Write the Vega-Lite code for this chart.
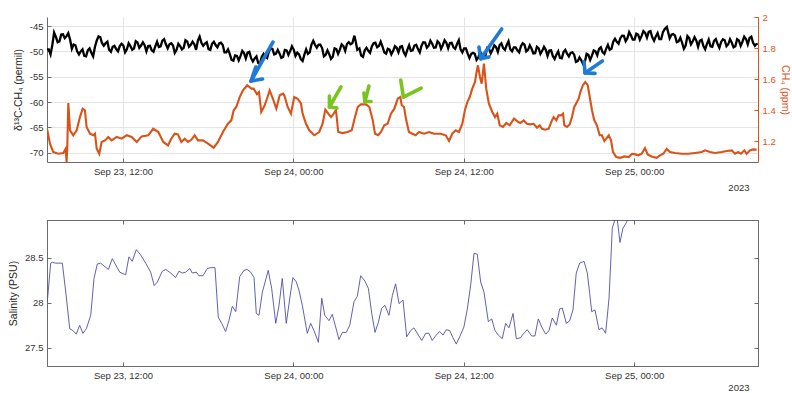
{
  "$schema": "https://vega.github.io/schema/vega-lite/v6.json",
  "padding": {"left": 8, "top": 12, "right": 1, "bottom": 4},
  "background": "white",
  "config": {
    "font": "Liberation Sans",
    "view": {"stroke": null},
    "axis": {
      "labelFont": "Liberation Sans", "titleFont": "Liberation Sans",
      "labelFontSize": 9.5, "titleFontSize": 10.5, "titleFontWeight": "normal",
      "labelColor": "#333333", "titleColor": "#262626",
      "domainColor": "#6b6b6b", "tickColor": "#6b6b6b", "gridColor": "#e4e4e4",
      "tickSize": -4, "labelPadding": 8
    }
  },
  "datasets": {
    "d13c": [
      {"hour":6.65,"d13c":-49.6},{"hour":6.90,"d13c":-50.6},{"hour":7.15,"d13c":-46.3},{"hour":7.40,"d13c":-48.2},{"hour":7.65,"d13c":-46.7},{"hour":7.90,"d13c":-47.4},{"hour":8.15,"d13c":-46.4},{"hour":8.40,"d13c":-49.5},{"hour":8.65,"d13c":-48.8},{"hour":8.90,"d13c":-50.6},
      {"hour":9.15,"d13c":-49.6},{"hour":9.40,"d13c":-51.0},{"hour":9.65,"d13c":-49.4},{"hour":9.90,"d13c":-51.0},{"hour":10.15,"d13c":-47.9},{"hour":10.40,"d13c":-47.2},{"hour":10.65,"d13c":-48.9},{"hour":10.90,"d13c":-48.1},{"hour":11.15,"d13c":-50.1},{"hour":11.40,"d13c":-48.9},
      {"hour":11.65,"d13c":-50.0},{"hour":11.90,"d13c":-48.5},{"hour":12.15,"d13c":-50.2},{"hour":12.40,"d13c":-48.4},{"hour":12.65,"d13c":-49.7},{"hour":12.90,"d13c":-48.0},{"hour":13.15,"d13c":-49.3},{"hour":13.40,"d13c":-48.2},{"hour":13.65,"d13c":-50.0},{"hour":13.90,"d13c":-48.9},
      {"hour":14.15,"d13c":-50.1},{"hour":14.40,"d13c":-48.1},{"hour":14.65,"d13c":-49.0},{"hour":14.90,"d13c":-47.6},{"hour":15.15,"d13c":-49.4},{"hour":15.40,"d13c":-48.4},{"hour":15.65,"d13c":-50.3},{"hour":15.90,"d13c":-48.5},{"hour":16.15,"d13c":-49.6},{"hour":16.40,"d13c":-47.8},
      {"hour":16.65,"d13c":-49.1},{"hour":16.90,"d13c":-48.1},{"hour":17.15,"d13c":-49.7},{"hour":17.40,"d13c":-47.1},{"hour":17.65,"d13c":-48.9},{"hour":17.90,"d13c":-48.2},{"hour":18.15,"d13c":-49.7},{"hour":18.40,"d13c":-48.1},{"hour":18.65,"d13c":-49.2},{"hour":18.90,"d13c":-48.3},
      {"hour":19.15,"d13c":-50.2},{"hour":19.40,"d13c":-49.6},{"hour":19.65,"d13c":-51.7},{"hour":19.90,"d13c":-50.8},{"hour":20.15,"d13c":-51.8},{"hour":20.40,"d13c":-49.9},{"hour":20.65,"d13c":-51.4},{"hour":20.90,"d13c":-50.1},{"hour":21.15,"d13c":-52.0},{"hour":21.40,"d13c":-51.0},
      {"hour":21.65,"d13c":-52.4},{"hour":21.90,"d13c":-50.5},{"hour":22.15,"d13c":-51.3},{"hour":22.40,"d13c":-49.4},{"hour":22.65,"d13c":-50.6},{"hour":22.90,"d13c":-49.7},{"hour":23.15,"d13c":-51.3},{"hour":23.40,"d13c":-49.7},{"hour":23.65,"d13c":-50.7},{"hour":23.90,"d13c":-49.0},
      {"hour":24.15,"d13c":-50.9},{"hour":24.40,"d13c":-50.6},{"hour":24.65,"d13c":-51.9},{"hour":24.90,"d13c":-49.6},{"hour":25.15,"d13c":-50.2},{"hour":25.40,"d13c":-47.9},{"hour":25.65,"d13c":-49.3},{"hour":25.90,"d13c":-48.7},{"hour":26.15,"d13c":-51.0},{"hour":26.40,"d13c":-49.8},
      {"hour":26.65,"d13c":-51.5},{"hour":26.90,"d13c":-49.4},{"hour":27.15,"d13c":-50.5},{"hour":27.40,"d13c":-48.6},{"hour":27.65,"d13c":-49.9},{"hour":27.90,"d13c":-48.2},{"hour":28.15,"d13c":-48.4},{"hour":28.30,"d13c":-46.9},{"hour":28.50,"d13c":-49.7},{"hour":28.65,"d13c":-49.4},
      {"hour":28.90,"d13c":-51.1},{"hour":29.15,"d13c":-49.3},{"hour":29.40,"d13c":-50.3},{"hour":29.65,"d13c":-48.4},{"hour":29.90,"d13c":-49.2},{"hour":30.15,"d13c":-48.1},{"hour":30.40,"d13c":-50.2},{"hour":30.65,"d13c":-49.5},{"hour":30.90,"d13c":-50.6},{"hour":31.15,"d13c":-49.0},
      {"hour":31.40,"d13c":-50.2},{"hour":31.65,"d13c":-49.0},{"hour":31.90,"d13c":-50.8},{"hour":32.15,"d13c":-48.8},{"hour":32.40,"d13c":-49.8},{"hour":32.65,"d13c":-48.7},{"hour":32.90,"d13c":-50.2},{"hour":33.15,"d13c":-48.2},{"hour":33.40,"d13c":-49.3},{"hour":33.65,"d13c":-47.9},
      {"hour":33.90,"d13c":-49.3},{"hour":34.15,"d13c":-48.0},{"hour":34.40,"d13c":-49.5},{"hour":34.65,"d13c":-47.8},{"hour":34.90,"d13c":-49.4},{"hour":35.15,"d13c":-48.3},{"hour":35.40,"d13c":-49.5},{"hour":35.65,"d13c":-47.8},{"hour":35.90,"d13c":-50.2},{"hour":36.15,"d13c":-49.4},
      {"hour":36.40,"d13c":-51.3},{"hour":36.65,"d13c":-50.3},{"hour":36.90,"d13c":-51.7},{"hour":37.15,"d13c":-50.1},{"hour":37.40,"d13c":-51.2},{"hour":37.65,"d13c":-49.3},{"hour":37.90,"d13c":-50.4},{"hour":38.15,"d13c":-48.8},{"hour":38.40,"d13c":-50.1},{"hour":38.65,"d13c":-48.4},
      {"hour":38.90,"d13c":-49.7},{"hour":39.15,"d13c":-48.0},{"hour":39.40,"d13c":-50.0},{"hour":39.65,"d13c":-49.2},{"hour":39.90,"d13c":-50.2},{"hour":40.15,"d13c":-48.4},{"hour":40.40,"d13c":-50.0},{"hour":40.65,"d13c":-48.8},{"hour":40.90,"d13c":-50.4},{"hour":41.15,"d13c":-49.1},
      {"hour":41.40,"d13c":-50.5},{"hour":41.65,"d13c":-49.1},{"hour":41.90,"d13c":-50.9},{"hour":42.15,"d13c":-49.8},{"hour":42.40,"d13c":-51.5},{"hour":42.65,"d13c":-50.0},{"hour":42.90,"d13c":-51.4},{"hour":43.15,"d13c":-49.7},{"hour":43.40,"d13c":-51.0},{"hour":43.65,"d13c":-50.2},
      {"hour":43.90,"d13c":-52.1},{"hour":44.15,"d13c":-51.2},{"hour":44.40,"d13c":-52.5},{"hour":44.65,"d13c":-50.5},{"hour":44.90,"d13c":-51.7},{"hour":45.15,"d13c":-49.8},{"hour":45.40,"d13c":-50.8},{"hour":45.65,"d13c":-49.2},{"hour":45.90,"d13c":-50.5},{"hour":46.15,"d13c":-48.7},
      {"hour":46.40,"d13c":-49.5},{"hour":46.65,"d13c":-47.5},{"hour":46.90,"d13c":-48.5},{"hour":47.15,"d13c":-46.9},{"hour":47.40,"d13c":-48.0},{"hour":47.65,"d13c":-46.2},{"hour":47.90,"d13c":-47.7},{"hour":48.15,"d13c":-46.5},{"hour":48.40,"d13c":-47.7},{"hour":48.65,"d13c":-46.0},
      {"hour":48.90,"d13c":-47.3},{"hour":49.15,"d13c":-46.0},{"hour":49.40,"d13c":-47.9},{"hour":49.65,"d13c":-46.4},{"hour":49.90,"d13c":-47.6},{"hour":50.15,"d13c":-45.6},{"hour":50.30,"d13c":-45.2},{"hour":50.50,"d13c":-47.4},{"hour":50.75,"d13c":-46.6},{"hour":51.00,"d13c":-48.2},
      {"hour":51.25,"d13c":-47.3},{"hour":51.50,"d13c":-49.5},{"hour":51.75,"d13c":-47.0},{"hour":52.00,"d13c":-48.6},{"hour":52.25,"d13c":-47.2},{"hour":52.50,"d13c":-49.1},{"hour":52.75,"d13c":-47.7},{"hour":53.00,"d13c":-49.6},{"hour":53.25,"d13c":-47.7},{"hour":53.50,"d13c":-49.1},
      {"hour":53.75,"d13c":-47.6},{"hour":54.00,"d13c":-49.3},{"hour":54.25,"d13c":-47.6},{"hour":54.50,"d13c":-49.0},{"hour":54.75,"d13c":-47.6},{"hour":55.00,"d13c":-49.2},{"hour":55.25,"d13c":-47.6},{"hour":55.50,"d13c":-48.9},{"hour":55.75,"d13c":-47.1},{"hour":56.00,"d13c":-48.6},
      {"hour":56.25,"d13c":-47.1},{"hour":56.50,"d13c":-48.9},{"hour":56.70,"d13c":-48.5},
      {"hour":6.775,"d13c":-49.6},{"hour":7.025,"d13c":-48.75},{"hour":7.275,"d13c":-47.15},{"hour":7.525,"d13c":-48.05},{"hour":7.775,"d13c":-46.65},{"hour":8.025,"d13c":-47.0},{"hour":8.275,"d13c":-47.65},{"hour":8.525,"d13c":-48.65},{"hour":8.775,"d13c":-50.0},{"hour":9.025,"d13c":-50.0},
      {"hour":9.275,"d13c":-50.9},{"hour":9.525,"d13c":-49.8},{"hour":9.775,"d13c":-50.3},{"hour":10.025,"d13c":-49.15},{"hour":10.275,"d13c":-47.05},{"hour":10.525,"d13c":-48.35},{"hour":10.775,"d13c":-48.4},{"hour":11.025,"d13c":-49.7},{"hour":11.275,"d13c":-49.1},{"hour":11.525,"d13c":-49.55},
      {"hour":11.775,"d13c":-48.95},{"hour":12.025,"d13c":-48.85},{"hour":12.275,"d13c":-49.6},{"hour":12.525,"d13c":-48.95},{"hour":12.775,"d13c":-49.45},{"hour":13.025,"d13c":-48.25},{"hour":13.275,"d13c":-48.85},{"hour":13.525,"d13c":-48.8},{"hour":13.775,"d13c":-48.95},{"hour":14.025,"d13c":-49.8},
      {"hour":14.275,"d13c":-49.0},{"hour":14.525,"d13c":-49.15},{"hour":14.775,"d13c":-47.9},{"hour":15.025,"d13c":-48.6},{"hour":15.275,"d13c":-48.6},{"hour":15.525,"d13c":-48.85},{"hour":15.775,"d13c":-49.7},{"hour":16.025,"d13c":-48.95},{"hour":16.275,"d13c":-49.3},{"hour":16.525,"d13c":-48.05},
      {"hour":16.775,"d13c":-48.7},{"hour":17.025,"d13c":-48.6},{"hour":17.275,"d13c":-47.9},{"hour":17.525,"d13c":-48.3},{"hour":17.775,"d13c":-48.45},{"hour":18.025,"d13c":-49.55},{"hour":18.275,"d13c":-48.5},{"hour":18.525,"d13c":-48.75},{"hour":18.775,"d13c":-48.45},{"hour":19.025,"d13c":-48.75},
      {"hour":19.275,"d13c":-50.2},{"hour":19.525,"d13c":-50.55},{"hour":19.775,"d13c":-51.85},{"hour":20.025,"d13c":-50.9},{"hour":20.275,"d13c":-50.95},{"hour":20.525,"d13c":-50.35},{"hour":20.775,"d13c":-50.25},{"hour":21.025,"d13c":-51.35},{"hour":21.275,"d13c":-51.4},{"hour":21.525,"d13c":-52.3},
      {"hour":21.775,"d13c":-51.05},{"hour":22.025,"d13c":-51.0},{"hour":22.275,"d13c":-50.05},{"hour":22.525,"d13c":-49.5},{"hour":22.775,"d13c":-50.45},{"hour":23.025,"d13c":-50.4},{"hour":23.275,"d13c":-51.1},{"hour":23.525,"d13c":-49.8},{"hour":23.775,"d13c":-49.95},{"hour":24.025,"d13c":-49.65},
      {"hour":24.275,"d13c":-50.25},{"hour":24.525,"d13c":-51.55},{"hour":24.775,"d13c":-50.65},{"hour":25.025,"d13c":-50.5},{"hour":25.275,"d13c":-48.65},{"hour":25.525,"d13c":-48.7},{"hour":25.775,"d13c":-48.7},{"hour":26.025,"d13c":-49.35},{"hour":26.275,"d13c":-50.7},{"hour":26.525,"d13c":-50.55},
      {"hour":26.775,"d13c":-51.05},{"hour":27.025,"d13c":-49.55},{"hour":27.275,"d13c":-49.65},{"hour":27.525,"d13c":-48.95},{"hour":27.775,"d13c":-48.55},{"hour":28.025,"d13c":-48.6},{"hour":28.40,"d13c":-48.2},{"hour":28.775,"d13c":-50.85},{"hour":29.025,"d13c":-49.8},{"hour":29.275,"d13c":-49.9},
      {"hour":29.525,"d13c":-49.05},{"hour":29.775,"d13c":-48.3},{"hour":30.025,"d13c":-48.95},{"hour":30.275,"d13c":-49.05},{"hour":30.525,"d13c":-50.45},{"hour":30.775,"d13c":-49.65},{"hour":31.025,"d13c":-49.9},{"hour":31.275,"d13c":-49.3},{"hour":31.525,"d13c":-49.1},{"hour":31.775,"d13c":-50.2},
      {"hour":32.025,"d13c":-49.7},{"hour":32.275,"d13c":-49.9},{"hour":32.525,"d13c":-48.85},{"hour":32.775,"d13c":-49.55},{"hour":33.025,"d13c":-48.9},{"hour":33.275,"d13c":-48.25},{"hour":33.525,"d13c":-48.9},{"hour":33.775,"d13c":-48.5},{"hour":34.025,"d13c":-49.25},{"hour":34.275,"d13c":-48.35},
      {"hour":34.525,"d13c":-48.75},{"hour":34.775,"d13c":-48.3},{"hour":35.025,"d13c":-48.35},{"hour":35.275,"d13c":-49.2},{"hour":35.525,"d13c":-48.55},{"hour":35.775,"d13c":-49.6},{"hour":36.025,"d13c":-49.4},{"hour":36.275,"d13c":-50.45},{"hour":36.525,"d13c":-50.5},{"hour":36.775,"d13c":-50.5},
      {"hour":37.025,"d13c":-51.2},{"hour":37.275,"d13c":-50.55},{"hour":37.525,"d13c":-50.85},{"hour":37.775,"d13c":-49.45},{"hour":38.025,"d13c":-49.7},{"hour":38.275,"d13c":-49.15},{"hour":38.525,"d13c":-48.75},{"hour":38.775,"d13c":-49.35},{"hour":39.025,"d13c":-48.75},{"hour":39.275,"d13c":-49.6},
      {"hour":39.525,"d13c":-49.2},{"hour":39.775,"d13c":-49.8},{"hour":40.025,"d13c":-49.0},{"hour":40.275,"d13c":-48.7},{"hour":40.525,"d13c":-49.7},{"hour":40.775,"d13c":-49.5},{"hour":41.025,"d13c":-50.35},{"hour":41.275,"d13c":-49.4},{"hour":41.525,"d13c":-49.9},{"hour":41.775,"d13c":-49.7},
      {"hour":42.025,"d13c":-49.85},{"hour":42.275,"d13c":-50.95},{"hour":42.525,"d13c":-50.65},{"hour":42.775,"d13c":-51.3},{"hour":43.025,"d13c":-50.15},{"hour":43.275,"d13c":-50.45},{"hour":43.525,"d13c":-50.3},{"hour":43.775,"d13c":-50.65},{"hour":44.025,"d13c":-51.95},{"hour":44.275,"d13c":-51.75},
      {"hour":44.525,"d13c":-52.1},{"hour":44.775,"d13c":-50.7},{"hour":45.025,"d13c":-50.85},{"hour":45.275,"d13c":-50.0},{"hour":45.525,"d13c":-49.5},{"hour":45.775,"d13c":-50.15},{"hour":46.025,"d13c":-49.5},{"hour":46.275,"d13c":-49.7},{"hour":46.525,"d13c":-48.1},{"hour":46.775,"d13c":-48.1},
      {"hour":47.025,"d13c":-47.4},{"hour":47.275,"d13c":-46.95},{"hour":47.525,"d13c":-47.4},{"hour":47.775,"d13c":-46.85},{"hour":48.025,"d13c":-47.7},{"hour":48.275,"d13c":-46.7},{"hour":48.525,"d13c":-46.95},{"hour":48.775,"d13c":-46.35},{"hour":49.025,"d13c":-46.15},{"hour":49.275,"d13c":-47.25},
      {"hour":49.525,"d13c":-47.05},{"hour":49.775,"d13c":-47.6},{"hour":50.025,"d13c":-46.2},{"hour":50.40,"d13c":-46.3},{"hour":50.625,"d13c":-46.7},{"hour":50.875,"d13c":-46.9},{"hour":51.125,"d13c":-48.05},{"hour":51.375,"d13c":-48.3},{"hour":51.625,"d13c":-48.85},{"hour":51.875,"d13c":-47.4},
      {"hour":52.125,"d13c":-48.0},{"hour":52.375,"d13c":-47.85},{"hour":52.625,"d13c":-47.9},{"hour":52.875,"d13c":-48.95},{"hour":53.125,"d13c":-48.55},{"hour":53.375,"d13c":-49.0},{"hour":53.625,"d13c":-47.95},{"hour":53.875,"d13c":-48.55},{"hour":54.125,"d13c":-48.15},{"hour":54.375,"d13c":-47.8},
      {"hour":54.625,"d13c":-48.6},{"hour":54.875,"d13c":-48.3},{"hour":55.125,"d13c":-49.0},{"hour":55.375,"d13c":-47.85},{"hour":55.625,"d13c":-48.1},{"hour":55.875,"d13c":-47.55},{"hour":56.125,"d13c":-47.35},{"hour":56.375,"d13c":-48.3},{"hour":56.60,"d13c":-48.6}
    ],
    "ch4": [
      {"hour":6.65,"ch4":1.281},{"hour":6.86,"ch4":1.185},{"hour":7.09,"ch4":1.131},{"hour":7.44,"ch4":1.120},{"hour":7.80,"ch4":1.125},{"hour":7.96,"ch4":1.152},{"hour":8.03,"ch4":1.067},{"hour":8.08,"ch4":1.163},{"hour":8.15,"ch4":1.447},{"hour":8.27,"ch4":1.271},
      {"hour":8.50,"ch4":1.239},{"hour":8.74,"ch4":1.271},{"hour":8.97,"ch4":1.356},{"hour":9.16,"ch4":1.410},{"hour":9.32,"ch4":1.400},{"hour":9.44,"ch4":1.292},{"hour":9.68,"ch4":1.249},{"hour":9.91,"ch4":1.239},{"hour":10.03,"ch4":1.249},{"hour":10.15,"ch4":1.152},
      {"hour":10.33,"ch4":1.120},{"hour":10.50,"ch4":1.196},{"hour":10.73,"ch4":1.206},{"hour":10.97,"ch4":1.228},{"hour":11.20,"ch4":1.206},{"hour":11.56,"ch4":1.228},{"hour":11.91,"ch4":1.217},{"hour":12.26,"ch4":1.239},{"hour":12.61,"ch4":1.228},{"hour":12.97,"ch4":1.196},
      {"hour":13.32,"ch4":1.232},{"hour":13.78,"ch4":1.239},{"hour":14.13,"ch4":1.281},{"hour":14.49,"ch4":1.260},{"hour":14.84,"ch4":1.196},{"hour":15.17,"ch4":1.174},{"hour":15.40,"ch4":1.217},{"hour":15.64,"ch4":1.249},{"hour":15.87,"ch4":1.245},{"hour":16.11,"ch4":1.196},
      {"hour":16.35,"ch4":1.217},{"hour":16.58,"ch4":1.196},{"hour":16.81,"ch4":1.210},{"hour":17.05,"ch4":1.239},{"hour":17.28,"ch4":1.206},{"hour":17.63,"ch4":1.206},{"hour":17.99,"ch4":1.185},{"hour":18.39,"ch4":1.159},{"hour":18.69,"ch4":1.196},{"hour":19.04,"ch4":1.260},
      {"hour":19.39,"ch4":1.313},{"hour":19.63,"ch4":1.335},{"hour":19.80,"ch4":1.400},{"hour":19.98,"ch4":1.421},{"hour":20.22,"ch4":1.485},{"hour":20.45,"ch4":1.528},{"hour":20.75,"ch4":1.561},{"hour":21.04,"ch4":1.539},{"hour":21.20,"ch4":1.539},{"hour":21.44,"ch4":1.503},
      {"hour":21.58,"ch4":1.517},{"hour":21.74,"ch4":1.389},{"hour":21.98,"ch4":1.432},{"hour":22.14,"ch4":1.474},{"hour":22.33,"ch4":1.528},{"hour":22.56,"ch4":1.474},{"hour":22.80,"ch4":1.410},{"hour":23.04,"ch4":1.496},{"hour":23.27,"ch4":1.507},{"hour":23.36,"ch4":1.496},
      {"hour":23.60,"ch4":1.421},{"hour":23.83,"ch4":1.378},{"hour":24.06,"ch4":1.485},{"hour":24.30,"ch4":1.474},{"hour":24.54,"ch4":1.442},{"hour":24.65,"ch4":1.378},{"hour":24.89,"ch4":1.313},{"hour":25.12,"ch4":1.271},{"hour":25.47,"ch4":1.239},{"hour":25.82,"ch4":1.260},
      {"hour":26.06,"ch4":1.313},{"hour":26.25,"ch4":1.404},{"hour":26.46,"ch4":1.378},{"hour":26.65,"ch4":1.356},{"hour":26.84,"ch4":1.378},{"hour":27.00,"ch4":1.400},{"hour":27.16,"ch4":1.260},{"hour":27.47,"ch4":1.253},{"hour":27.82,"ch4":1.260},{"hour":28.11,"ch4":1.271},
      {"hour":28.34,"ch4":1.356},{"hour":28.53,"ch4":1.421},{"hour":28.76,"ch4":1.438},{"hour":29.12,"ch4":1.438},{"hour":29.35,"ch4":1.421},{"hour":29.59,"ch4":1.335},{"hour":29.75,"ch4":1.249},{"hour":29.98,"ch4":1.239},{"hour":30.17,"ch4":1.260},{"hour":30.40,"ch4":1.303},
      {"hour":30.64,"ch4":1.313},{"hour":30.87,"ch4":1.378},{"hour":31.11,"ch4":1.410},{"hour":31.35,"ch4":1.474},{"hour":31.53,"ch4":1.485},{"hour":31.63,"ch4":1.432},{"hour":31.79,"ch4":1.421},{"hour":31.95,"ch4":1.335},{"hour":32.14,"ch4":1.260},{"hour":32.38,"ch4":1.249},
      {"hour":32.61,"ch4":1.239},{"hour":32.85,"ch4":1.260},{"hour":33.20,"ch4":1.249},{"hour":33.56,"ch4":1.260},{"hour":33.90,"ch4":1.249},{"hour":34.38,"ch4":1.249},{"hour":34.73,"ch4":1.239},{"hour":34.96,"ch4":1.202},{"hour":35.19,"ch4":1.249},{"hour":35.43,"ch4":1.271},
      {"hour":35.66,"ch4":1.260},{"hour":35.90,"ch4":1.313},{"hour":36.08,"ch4":1.400},{"hour":36.25,"ch4":1.453},{"hour":36.42,"ch4":1.485},{"hour":36.60,"ch4":1.539},{"hour":36.79,"ch4":1.582},{"hour":36.88,"ch4":1.635},{"hour":37.00,"ch4":1.689},{"hour":37.14,"ch4":1.614},
      {"hour":37.26,"ch4":1.571},{"hour":37.42,"ch4":1.700},{"hour":37.58,"ch4":1.539},{"hour":37.77,"ch4":1.442},{"hour":38.01,"ch4":1.389},{"hour":38.20,"ch4":1.356},{"hour":38.36,"ch4":1.378},{"hour":38.53,"ch4":1.303},{"hour":38.76,"ch4":1.292},{"hour":38.99,"ch4":1.318},
      {"hour":39.23,"ch4":1.303},{"hour":39.54,"ch4":1.346},{"hour":39.84,"ch4":1.324},{"hour":39.98,"ch4":1.318},{"hour":40.22,"ch4":1.335},{"hour":40.45,"ch4":1.313},{"hour":40.68,"ch4":1.309},{"hour":40.92,"ch4":1.313},{"hour":41.16,"ch4":1.288},{"hour":41.35,"ch4":1.303},
      {"hour":41.51,"ch4":1.281},{"hour":41.74,"ch4":1.275},{"hour":41.98,"ch4":1.281},{"hour":42.21,"ch4":1.335},{"hour":42.33,"ch4":1.356},{"hour":42.52,"ch4":1.335},{"hour":42.68,"ch4":1.367},{"hour":42.85,"ch4":1.367},{"hour":42.99,"ch4":1.378},{"hour":43.08,"ch4":1.303},
      {"hour":43.27,"ch4":1.292},{"hour":43.46,"ch4":1.309},{"hour":43.62,"ch4":1.356},{"hour":43.78,"ch4":1.421},{"hour":43.97,"ch4":1.453},{"hour":44.09,"ch4":1.474},{"hour":44.21,"ch4":1.517},{"hour":44.39,"ch4":1.561},{"hour":44.56,"ch4":1.582},{"hour":44.73,"ch4":1.561},
      {"hour":44.87,"ch4":1.485},{"hour":45.03,"ch4":1.400},{"hour":45.19,"ch4":1.335},{"hour":45.38,"ch4":1.303},{"hour":45.57,"ch4":1.239},{"hour":45.73,"ch4":1.239},{"hour":45.90,"ch4":1.202},{"hour":46.04,"ch4":1.217},{"hour":46.21,"ch4":1.239},{"hour":46.37,"ch4":1.206},
      {"hour":46.51,"ch4":1.131},{"hour":46.74,"ch4":1.099},{"hour":47.02,"ch4":1.094},{"hour":47.30,"ch4":1.103},{"hour":47.61,"ch4":1.099},{"hour":47.85,"ch4":1.120},{"hour":48.08,"ch4":1.116},{"hour":48.29,"ch4":1.110},{"hour":48.53,"ch4":1.120},{"hour":48.76,"ch4":1.157},
      {"hour":48.95,"ch4":1.116},{"hour":49.23,"ch4":1.103},{"hour":49.58,"ch4":1.094},{"hour":49.82,"ch4":1.110},{"hour":50.05,"ch4":1.120},{"hour":50.29,"ch4":1.152},{"hour":50.52,"ch4":1.131},{"hour":50.87,"ch4":1.125},{"hour":51.35,"ch4":1.120},{"hour":51.81,"ch4":1.120},
      {"hour":52.28,"ch4":1.125},{"hour":52.76,"ch4":1.131},{"hour":52.99,"ch4":1.142},{"hour":53.34,"ch4":1.131},{"hour":53.69,"ch4":1.125},{"hour":54.17,"ch4":1.131},{"hour":54.52,"ch4":1.138},{"hour":54.87,"ch4":1.142},{"hour":55.10,"ch4":1.120},{"hour":55.33,"ch4":1.131},
      {"hour":55.52,"ch4":1.120},{"hour":55.76,"ch4":1.142},{"hour":55.92,"ch4":1.120},{"hour":56.16,"ch4":1.142},{"hour":56.39,"ch4":1.148},{"hour":56.63,"ch4":1.146}
    ],
    "arrows": [
      {"h1":22.56,"p1":1.839,"h2":21.02,"p2":1.588,"colour":"blue"},
      {"h1":21.35,"p1":1.678,"h2":21.02,"p2":1.588,"colour":"blue"},
      {"h1":21.83,"p1":1.601,"h2":21.02,"p2":1.588,"colour":"blue"},
      {"h1":38.67,"p1":1.923,"h2":37.19,"p2":1.732,"colour":"blue"},
      {"h1":37.07,"p1":1.807,"h2":37.19,"p2":1.732,"colour":"blue"},
      {"h1":37.77,"p1":1.743,"h2":37.19,"p2":1.732,"colour":"blue"},
      {"h1":45.76,"p1":1.717,"h2":44.54,"p2":1.640,"colour":"blue"},
      {"h1":44.47,"p1":1.711,"h2":44.54,"p2":1.640,"colour":"blue"},
      {"h1":45.24,"p1":1.637,"h2":44.54,"p2":1.640,"colour":"blue"},
      {"h1":27.35,"p1":1.550,"h2":26.54,"p2":1.421,"colour":"green"},
      {"h1":26.54,"p1":1.492,"h2":26.54,"p2":1.421,"colour":"green"},
      {"h1":27.07,"p1":1.414,"h2":26.54,"p2":1.421,"colour":"green"},
      {"h1":29.32,"p1":1.556,"h2":29.04,"p2":1.456,"colour":"green"},
      {"h1":28.97,"p1":1.511,"h2":29.04,"p2":1.456,"colour":"green"},
      {"h1":29.47,"p1":1.456,"h2":29.04,"p2":1.456,"colour":"green"},
      {"h1":33.00,"p1":1.543,"h2":31.75,"p2":1.485,"colour":"green"},
      {"h1":31.56,"p1":1.595,"h2":31.75,"p2":1.485,"colour":"green"}
    ],
    "salinity": [
      {"hour":6.67,"psu":28.01},{"hour":6.91,"psu":28.44},{"hour":7.02,"psu":28.45},{"hour":7.26,"psu":28.44},{"hour":7.73,"psu":28.44},{"hour":7.97,"psu":28.12},{"hour":8.25,"psu":27.71},{"hour":8.48,"psu":27.69},{"hour":8.71,"psu":27.65},{"hour":8.95,"psu":27.75},
      {"hour":9.18,"psu":27.66},{"hour":9.42,"psu":27.71},{"hour":9.73,"psu":27.86},{"hour":9.96,"psu":28.27},{"hour":10.19,"psu":28.43},{"hour":10.43,"psu":28.44},{"hour":10.66,"psu":28.41},{"hour":10.97,"psu":28.37},{"hour":11.25,"psu":28.49},{"hour":11.49,"psu":28.42},
      {"hour":11.77,"psu":28.34},{"hour":12.19,"psu":28.31},{"hour":12.42,"psu":28.51},{"hour":12.65,"psu":28.46},{"hour":12.94,"psu":28.59},{"hour":13.25,"psu":28.53},{"hour":13.60,"psu":28.44},{"hour":13.95,"psu":28.34},{"hour":14.20,"psu":28.19},{"hour":14.42,"psu":28.23},
      {"hour":14.77,"psu":28.35},{"hour":15.01,"psu":28.37},{"hour":15.36,"psu":28.33},{"hour":15.71,"psu":28.28},{"hour":15.94,"psu":28.35},{"hour":16.18,"psu":28.33},{"hour":16.42,"psu":28.34},{"hour":16.70,"psu":28.38},{"hour":16.88,"psu":28.33},{"hour":17.16,"psu":28.34},
      {"hour":17.35,"psu":28.30},{"hour":17.63,"psu":28.30},{"hour":17.94,"psu":28.38},{"hour":18.18,"psu":28.39},{"hour":18.48,"psu":28.39},{"hour":18.71,"psu":27.84},{"hour":18.95,"psu":27.77},{"hour":19.23,"psu":27.68},{"hour":19.46,"psu":27.80},{"hour":19.70,"psu":27.96},
      {"hour":19.94,"psu":27.90},{"hour":20.22,"psu":28.29},{"hour":20.52,"psu":28.36},{"hour":20.75,"psu":28.37},{"hour":20.99,"psu":28.34},{"hour":21.23,"psu":28.28},{"hour":21.39,"psu":27.88},{"hour":21.58,"psu":27.86},{"hour":21.82,"psu":28.12},{"hour":22.23,"psu":28.36},
      {"hour":22.47,"psu":28.16},{"hour":22.76,"psu":27.77},{"hour":22.99,"psu":27.97},{"hour":23.22,"psu":28.27},{"hour":23.50,"psu":27.77},{"hour":23.81,"psu":28.12},{"hour":23.97,"psu":28.28},{"hour":24.21,"psu":28.23},{"hour":24.39,"psu":28.14},{"hour":24.63,"psu":27.97},
      {"hour":24.98,"psu":27.66},{"hour":25.22,"psu":27.77},{"hour":25.45,"psu":27.69},{"hour":25.76,"psu":27.56},{"hour":26.00,"psu":28.05},{"hour":26.21,"psu":27.86},{"hour":26.51,"psu":27.80},{"hour":26.74,"psu":27.87},{"hour":26.98,"psu":27.73},{"hour":27.21,"psu":27.59},
      {"hour":27.45,"psu":27.67},{"hour":27.73,"psu":27.67},{"hour":27.97,"psu":27.75},{"hour":28.27,"psu":28.01},{"hour":28.50,"psu":28.07},{"hour":28.74,"psu":28.30},{"hour":29.04,"psu":28.24},{"hour":29.28,"psu":28.16},{"hour":29.52,"psu":27.88},{"hour":29.75,"psu":27.67},
      {"hour":29.98,"psu":27.78},{"hour":30.22,"psu":27.94},{"hour":30.45,"psu":27.97},{"hour":30.73,"psu":27.86},{"hour":30.97,"psu":28.08},{"hour":31.20,"psu":28.21},{"hour":31.44,"psu":27.99},{"hour":31.72,"psu":28.03},{"hour":31.98,"psu":27.62},{"hour":32.26,"psu":27.69},
      {"hour":32.49,"psu":27.72},{"hour":32.80,"psu":27.64},{"hour":33.04,"psu":27.58},{"hour":33.32,"psu":27.66},{"hour":33.55,"psu":27.66},{"hour":33.78,"psu":27.58},{"hour":34.06,"psu":27.64},{"hour":34.30,"psu":27.68},{"hour":34.54,"psu":27.64},{"hour":34.77,"psu":27.70},
      {"hour":35.01,"psu":27.69},{"hour":35.24,"psu":27.61},{"hour":35.47,"psu":27.54},{"hour":35.71,"psu":27.62},{"hour":36.01,"psu":27.73},{"hour":36.25,"psu":27.93},{"hour":36.49,"psu":28.20},{"hour":36.72,"psu":28.55},{"hour":36.95,"psu":28.54},{"hour":37.19,"psu":28.23},
      {"hour":37.42,"psu":28.12},{"hour":37.73,"psu":27.79},{"hour":37.97,"psu":27.82},{"hour":38.20,"psu":27.69},{"hour":38.43,"psu":27.64},{"hour":38.71,"psu":27.60},{"hour":38.95,"psu":27.77},{"hour":39.18,"psu":27.72},{"hour":39.47,"psu":27.88},{"hour":39.70,"psu":27.60},
      {"hour":40.01,"psu":27.61},{"hour":40.12,"psu":27.64},{"hour":40.47,"psu":27.70},{"hour":40.78,"psu":27.63},{"hour":41.01,"psu":27.63},{"hour":41.25,"psu":27.82},{"hour":41.49,"psu":27.73},{"hour":41.77,"psu":27.65},{"hour":42.00,"psu":27.69},{"hour":42.23,"psu":27.83},
      {"hour":42.52,"psu":27.75},{"hour":42.75,"psu":27.93},{"hour":42.94,"psu":27.94},{"hour":43.22,"psu":27.77},{"hour":43.46,"psu":27.80},{"hour":43.69,"psu":27.92},{"hour":43.92,"psu":28.33},{"hour":44.16,"psu":28.44},{"hour":44.47,"psu":28.46},{"hour":44.70,"psu":28.33},
      {"hour":44.87,"psu":28.10},{"hour":45.01,"psu":27.90},{"hour":45.24,"psu":27.92},{"hour":45.52,"psu":27.70},{"hour":45.75,"psu":27.72},{"hour":45.99,"psu":27.66},{"hour":46.23,"psu":28.05},{"hour":46.46,"psu":28.83},{"hour":46.70,"psu":28.95},{"hour":46.81,"psu":28.93},
      {"hour":47.00,"psu":28.67},{"hour":47.21,"psu":28.83},{"hour":47.45,"psu":28.89},{"hour":47.64,"psu":28.97}
    ]
  },
  "spacing": 58,
  "bounds": "flush",
  "vconcat": [
    {
      "width": 711,
      "height": 145,
      "layer": [
        {
          "data": {"name": "d13c"},
          "mark": {"type": "line", "color": "#000000", "strokeWidth": 2.3, "clip": true},
          "encoding": {
            "x": {
              "field": "hour", "type": "quantitative", "title": "2023",
              "scale": {"domain": [6.65, 56.72], "nice": false, "zero": false},
              "axis": {
                "values": [12, 24, 36, 48], "grid": true,
                "labelExpr": "datum.value == 12 ? 'Sep 23, 12:00' : datum.value == 24 ? 'Sep 24, 00:00' : datum.value == 36 ? 'Sep 24, 12:00' : 'Sep 25, 00:00'",
                "titleX": 702, "titleY": 20, "titleAlign": "right", "titleBaseline": "top",
                "titleFontSize": 9.5, "titleColor": "#333333"
              }
            },
            "y": {
              "field": "d13c", "type": "quantitative", "title": "δ¹³C-CH₄ (permil)",
              "scale": {"domain": [-71.84, -43.22], "nice": false, "zero": false},
              "axis": {"orient": "left", "values": [-70, -65, -60, -55, -50, -45], "grid": true, "labelExpr": "datum.value + ''", "titlePadding": 6}
            }
          }
        },
        {
          "data": {"name": "ch4"},
          "mark": {"type": "line", "color": "#D95319", "strokeWidth": 2.1, "clip": true},
          "encoding": {
            "x": {"field": "hour", "type": "quantitative", "title": "2023"},
            "y": {
              "field": "ch4", "type": "quantitative", "title": "CH₄ (ppm)",
              "scale": {"domain": [1.067, 2.0], "nice": false, "zero": false},
              "axis": {
                "orient": "right", "values": [1.2, 1.4, 1.6, 1.8, 2], "format": ".1~f", "grid": false,
                "domainColor": "#D95319", "tickColor": "#D95319", "labelColor": "#D95319", "titleColor": "#D95319",
                "titlePadding": 4
              }
            }
          }
        },
        {
          "data": {"name": "arrows"},
          "mark": {"type": "rule", "strokeWidth": 3.6, "strokeCap": "round"},
          "encoding": {
            "x": {"field": "h1", "type": "quantitative", "title": "2023"},
            "x2": {"field": "h2"},
            "y": {"field": "p1", "type": "quantitative", "scale": {"domain": [1.067, 2.0], "nice": false, "zero": false}, "axis": null},
            "y2": {"field": "p2"},
            "color": {"field": "colour", "type": "nominal", "scale": {"domain": ["blue", "green"], "range": ["#1f7bd6", "#7ac41f"]}, "legend": null}
          }
        }
      ],
      "resolve": {"scale": {"y": "independent"}}
    },
    {
      "width": 711,
      "height": 146,
      "view": {"stroke": "#6b6b6b", "strokeWidth": 1},
      "data": {"name": "salinity"},
      "layer": [
        {
          "mark": {"type": "line", "color": "#4f4fa6", "strokeWidth": 0.9, "clip": true},
          "encoding": {
            "x": {
              "field": "hour", "type": "quantitative", "title": "2023",
              "scale": {"domain": [6.65, 56.72], "nice": false, "zero": false},
              "axis": {
                "values": [12, 24, 36, 48], "grid": false,
                "labelExpr": "datum.value == 12 ? 'Sep 23, 12:00' : datum.value == 24 ? 'Sep 24, 00:00' : datum.value == 36 ? 'Sep 24, 12:00' : 'Sep 25, 00:00'",
                "titleX": 702, "titleY": 16, "titleAlign": "right", "titleBaseline": "top",
                "titleFontSize": 9.5, "titleColor": "#333333"
              }
            },
            "y": {
              "field": "psu", "type": "quantitative", "title": "Salinity (PSU)",
              "scale": {"domain": [27.296, 28.92], "nice": false, "zero": false},
              "axis": {"values": [27.5, 28, 28.5], "grid": false, "labelExpr": "datum.value + ''", "titlePadding": 6}
            }
          }
        },
        {
          "mark": {"type": "line", "opacity": 0},
          "encoding": {
            "x": {
              "field": "hour", "type": "quantitative",
              "scale": {"domain": [6.65, 56.72], "nice": false, "zero": false},
              "axis": {"orient": "top", "values": [12, 24, 36, 48], "labels": false, "title": null, "grid": false}
            },
            "y": {
              "field": "psu", "type": "quantitative",
              "scale": {"domain": [27.296, 28.92], "nice": false, "zero": false},
              "axis": {"orient": "right", "values": [27.5, 28, 28.5], "labels": false, "title": null, "grid": false}
            }
          }
        }
      ],
      "resolve": {"scale": {"x": "independent", "y": "independent"}}
    }
  ]
}
